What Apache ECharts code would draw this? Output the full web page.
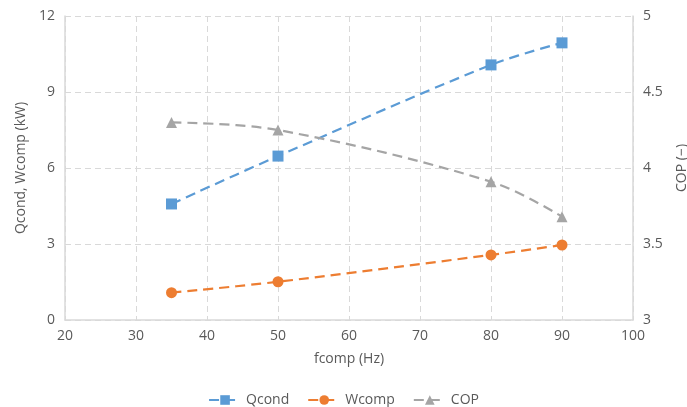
<!DOCTYPE html>
<html><head><meta charset="utf-8">
<script src="https://cdn.jsdelivr.net/npm/echarts@6/dist/echarts.min.js"></script>
<style>html,body{margin:0;padding:0;background:#fff}#c{width:687px;height:407px}</style>
</head><body><div id="c"></div>
<script>
const fcomp = [35, 50, 80, 90];
const qcond = [4.58, 6.47, 10.07, 10.94];
const wcomp = [1.08, 1.51, 2.57, 2.96];
const cop = [4.30, 4.25, 3.91, 3.68];
const pair = (xs, ys) => xs.map((x, i) => [x, ys[i]]);
const font = 'Open Sans';
const txt = '#595959';
const chart = echarts.init(document.getElementById('c'));
const lineSeries = (name, data, color, symbol, size, yIdx) => ({
  name, type: 'line', data: pair(fcomp, data), yAxisIndex: yIdx, smooth: 0.35,
  symbol, symbolSize: size, itemStyle: { color },
  lineStyle: { color, width: 2.2, type: [10, 6] }
});
chart.setOption({
  animation: false,
  textStyle: { fontFamily: font },
  grid: { left: 65, right: 54, top: 16, bottom: 87, containLabel: false, outerBoundsMode: 'none' },
  xAxis: {
    type: 'value', min: 20, max: 100, interval: 10,
    name: 'fcomp (Hz)', nameLocation: 'middle', nameGap: 32,
    nameTextStyle: { color: txt, fontSize: 14, fontFamily: font },
    axisLine: { lineStyle: { color: '#d9d9d9', width: 1.5 } },
    axisTick: { show: false },
    axisLabel: { color: txt, fontSize: 14, margin: 9 },
    splitLine: { show: true, lineStyle: { color: '#d9d9d9', type: [6, 4] } }
  },
  yAxis: [{
    type: 'value', min: 0, max: 12, interval: 3,
    name: 'Qcond, Wcomp (kW)', nameLocation: 'middle', nameGap: 36,
    nameTextStyle: { color: txt, fontSize: 14, fontFamily: font },
    axisLine: { show: true, lineStyle: { color: '#d9d9d9', width: 1.5 } },
    axisTick: { show: false },
    axisLabel: { color: txt, fontSize: 14, margin: 10 },
    splitLine: { show: true, lineStyle: { color: '#d9d9d9', type: [6, 4] } }
  }, {
    type: 'value', min: 3, max: 5, interval: 0.5, position: 'right',
    name: 'COP (−)', nameLocation: 'middle', nameGap: 42,
    nameTextStyle: { color: txt, fontSize: 14, fontFamily: font },
    axisLine: { show: true, lineStyle: { color: '#d9d9d9', width: 1.5 } },
    axisTick: { show: false },
    axisLabel: { color: txt, fontSize: 14, margin: 10 },
    splitLine: { show: false }
  }],
  legend: {
    top: 388, itemWidth: 32, itemHeight: 12, itemGap: 18,
    textStyle: { color: txt, fontSize: 14, fontFamily: font },
    data: ['Qcond', 'Wcomp', 'COP']
  },
  series: [
    lineSeries('Qcond', qcond, '#5B9BD5', 'rect', 11, 0),
    lineSeries('Wcomp', wcomp, '#ED7D31', 'circle', 11, 0),
    lineSeries('COP', cop, '#A5A5A5', 'triangle', 11, 1)
  ]
});
</script></body></html>
